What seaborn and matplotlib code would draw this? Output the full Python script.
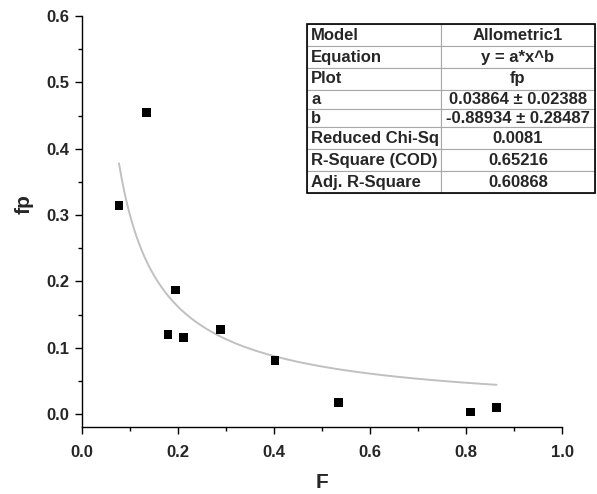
import numpy as np
import pandas as pd
import matplotlib
matplotlib.use("Agg")
import matplotlib.pyplot as plt
import seaborn as sns
from matplotlib.ticker import MultipleLocator
from matplotlib.patches import Rectangle

# ---- data ----
F_vals = [0.077, 0.134, 0.179, 0.195, 0.211, 0.288, 0.402, 0.534, 0.809, 0.863]
fp_vals = [0.314, 0.454, 0.120, 0.187, 0.115, 0.128, 0.081, 0.017, 0.003, 0.010]

# fit parameters (Allometric1: y = a*x^b) as reported in the table
fit_a = 0.03864
fit_b = -0.88934

table_labels = ["Model", "Equation", "Plot", "a", "b",
                "Reduced Chi-Sq", "R-Square (COD)", "Adj. R-Square"]
table_values = ["Allometric1", "y = a*x^b", "fp",
                "0.03864 \u00b1 0.02388", "-0.88934 \u00b1 0.28487",
                "0.0081", "0.65216", "0.60868"]

x_ticks = [0.0, 0.2, 0.4, 0.6, 0.8, 1.0]
y_ticks = [0.0, 0.1, 0.2, 0.3, 0.4, 0.5, 0.6]

sns.set_theme(style="ticks")
plt.rcParams['font.family'] = ['Liberation Sans', 'DejaVu Sans']
plt.rcParams['font.weight'] = 'bold'

df = pd.DataFrame({"F": F_vals, "fp": fp_vals})
fx = np.linspace(min(F_vals), max(F_vals), 300)
fit_df = pd.DataFrame({"F": fx, "fp": fit_a * fx ** fit_b})

fig = plt.figure(figsize=(5.97, 4.94), dpi=100)
ax = fig.add_axes([82/597, 1 - 427.3/494, 480.3/597, 411.3/494])

sns.lineplot(data=fit_df, x="F", y="fp", ax=ax, color="#c0c0c0", linewidth=1.4)
sns.scatterplot(data=df, x="F", y="fp", ax=ax, marker="s", color="black",
                s=40, edgecolor="none", zorder=3)

ax.set_xlim(0, 1.0)
ax.set_ylim(-0.02, 0.6)
ax.set_xticks(x_ticks)
ax.set_yticks(y_ticks)
ax.set_xticklabels([f"{v:.1f}" for v in x_ticks], fontweight="bold")
ax.set_yticklabels([f"{v:.1f}" for v in y_ticks], fontweight="bold")
ax.xaxis.set_minor_locator(MultipleLocator(0.1))
ax.yaxis.set_minor_locator(MultipleLocator(0.05))
ax.tick_params(axis="both", which="major", direction="out", length=5, width=1,
               labelsize=12, color="black", pad=4)
ax.tick_params(axis="x", which="major", pad=7.5)
ax.tick_params(axis="both", which="minor", direction="out", length=3.2, width=1,
               color="black")
for side in ["top", "right"]:
    ax.spines[side].set_visible(False)
for side in ["left", "bottom"]:
    ax.spines[side].set_color("black")
    ax.spines[side].set_linewidth(1.0)

ax.set_xlabel("F", fontsize=15, fontweight="bold")
ax.set_ylabel("fp", fontsize=15, fontweight="bold")
ax.xaxis.set_label_coords(0.5, -0.11)
ax.yaxis.set_label_coords(-0.10, 0.543)

# ---- parameter table ----
x0 = (307 - 82) / 480.3
w = (595 - 307) / 480.3
ytop = (427.3 - 24.3) / 411.3
ybot = (427.3 - 193) / 411.3
cell_text = [[l, v] for l, v in zip(table_labels, table_values)]
tbl = ax.table(cellText=cell_text, cellLoc="center",
               bbox=[x0, ybot, w, ytop - ybot], colWidths=[134, 154])
tbl.auto_set_font_size(False)
row_h = [21.5, 21.5, 21.5, 18.5, 18.5, 21.5, 21.5, 21.5]
for (r, c), cell in tbl.get_celld().items():
    cell.set_height(row_h[r])
    cell.set_edgecolor("#a8a8a8")
    cell.set_linewidth(0.8)
    cell.set_facecolor("white")
    txt = cell.get_text()
    txt.set_fontsize(12)
    txt.set_fontweight("bold")
    if c == 0:
        txt.set_horizontalalignment("left")
        cell.PAD = 0.03
    else:
        cell.PAD = 0.0
    cell.set_clip_on(False)
tbl.set_clip_on(False)
tbl.set_zorder(5)
ax.add_patch(Rectangle((x0, ybot), w, ytop - ybot, transform=ax.transAxes,
                       fill=False, edgecolor="black", linewidth=1.2,
                       clip_on=False, zorder=6))

fig.savefig("out.png", dpi=100)
